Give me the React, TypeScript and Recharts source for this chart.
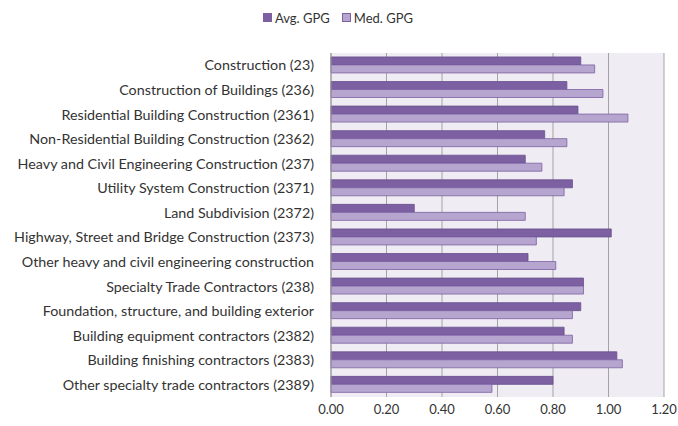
import { BarChart, Bar, XAxis, YAxis, CartesianGrid, Legend } from "recharts";

const categories = [
  "Construction (23)",
  "Construction of Buildings (236)",
  "Residential Building Construction (2361)",
  "Non-Residential Building Construction (2362)",
  "Heavy and Civil Engineering Construction (237)",
  "Utility System Construction (2371)",
  "Land Subdivision (2372)",
  "Highway, Street and Bridge Construction (2373)",
  "Other heavy and civil engineering construction",
  "Specialty Trade Contractors (238)",
  "Foundation, structure, and building exterior",
  "Building equipment contractors (2382)",
  "Building finishing contractors (2383)",
  "Other specialty trade contractors (2389)",
];
const avgGpg = [0.9, 0.85, 0.89, 0.77, 0.7, 0.87, 0.3, 1.01, 0.71, 0.91, 0.9, 0.84, 1.03, 0.8];
const medGpg = [0.95, 0.98, 1.07, 0.85, 0.76, 0.84, 0.7, 0.74, 0.81, 0.91, 0.87, 0.87, 1.05, 0.58];
const xTicks = [0, 0.2, 0.4, 0.6, 0.8, 1.0, 1.2];

const data = categories.map((name, i) => ({ name, avg: avgGpg[i], med: medGpg[i] }));

const FONT = "Lato, 'Open Sans', sans-serif";
const DARK = "#7c60a2";
const LIGHT = "#b6a6cf";

function LegendBox() {
  const item = (color: string, label: string) => (
    <span style={{ display: "inline-flex", alignItems: "center", marginRight: 12 }}>
      <span style={{ width: 7, height: 7, background: color, border: `1px solid ${DARK}`, marginRight: 3 }} />
      {label}
    </span>
  );
  return (
    <div style={{ fontFamily: FONT, fontSize: 13, color: "#333", paddingLeft: 24, textAlign: "center", height: 17 }}>
      {item(DARK, "Avg. GPG")}
      {item(LIGHT, "Med. GPG")}
    </div>
  );
}

export default function App() {
  return (
    <div style={{ position: "absolute", left: 0, top: 0, background: "#fff" }}>
      <BarChart
        width={678}
        height={426}
        data={data}
        layout="vertical"
        margin={{ top: 36, right: 14, bottom: 4, left: 0 }}
        barCategoryGap="16%"
        barGap={0}
      >
        <CartesianGrid horizontal={false} stroke="#a3a3a3" fill="#efedf3" />
        <XAxis
          type="number"
          domain={[0, 1.2]}
          ticks={xTicks}
          tickFormatter={(v: number) => v.toFixed(2)}
          tick={{ fill: "#333", fontSize: 13, fontFamily: FONT }}
          axisLine={false}
          tickLine={false}
          height={25}
        />
        <YAxis
          type="category"
          dataKey="name"
          width={331}
          interval={0}
          tick={{ fill: "#333", fontSize: 14.3, fontFamily: FONT }}
          axisLine={{ stroke: "#999" }}
          tickLine={false}
          tickMargin={11}
        />
        <Legend verticalAlign="top" wrapperStyle={{ top: 9 }} content={() => <LegendBox />} />
        <Bar dataKey="avg" name="Avg. GPG" fill={DARK} stroke="#6a4f8f" strokeWidth={0.8} isAnimationActive={false} />
        <Bar dataKey="med" name="Med. GPG" fill={LIGHT} stroke={DARK} strokeWidth={0.8} isAnimationActive={false} />
      </BarChart>
    </div>
  );
}
